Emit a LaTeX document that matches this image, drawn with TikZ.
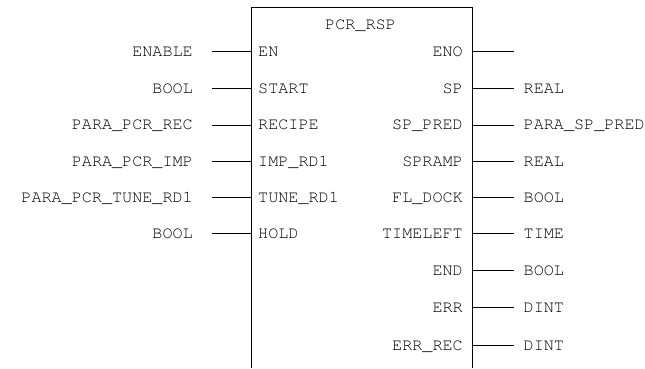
\documentclass[tikz,border=0pt]{standalone}
\usepackage{fontspec}
\newfontfamily\fbdfont{texgyrecursor-regular.otf}
\usetikzlibrary{calc}

\begin{document}
\begin{tikzpicture}[
  x=1pt, y=-1pt,
  lbl/.style={font=\fbdfont\fontsize{16.8}{18}\selectfont, inner sep=0pt, text=black},
  wire/.style={draw, line width=0.8pt}
  ]
  \useasboundingbox (0,0) rectangle (645,368);
  % block
  \coordinate (bl) at (251.7,368);
  \coordinate (tl) at (251.7,7);
  \coordinate (tr) at (472.3,7);
  \coordinate (br) at (472.3,368);
  \draw[wire] (bl) -- (tl) -- (tr) -- (br);
  \node[lbl, anchor=base] (fb) at (360.5,29.7) {PCR\_RSP};
  % inputs
  \coordinate (iEN) at (212,51.7); \draw[wire] (iEN) -- (iEN -| tl);
  \node[lbl, anchor=base east] (vEN) at (193,56.4) {ENABLE};
  \node[lbl, anchor=base west] (pEN) at (258,56.4) {EN};
  \coordinate (iST) at (212,88.3); \draw[wire] (iST) -- (iST -| tl);
  \node[lbl, anchor=base east] (vST) at (193,93.0) {BOOL};
  \node[lbl, anchor=base west] (pST) at (258,93.0) {START};
  \coordinate (iRC) at (212,125.0); \draw[wire] (iRC) -- (iRC -| tl);
  \node[lbl, anchor=base east] (vRC) at (193,129.7) {PARA\_PCR\_REC};
  \node[lbl, anchor=base west] (pRC) at (258,129.7) {RECIPE};
  \coordinate (iIM) at (212,161.7); \draw[wire] (iIM) -- (iIM -| tl);
  \node[lbl, anchor=base east] (vIM) at (193,166.4) {PARA\_PCR\_IMP};
  \node[lbl, anchor=base west] (pIM) at (258,166.4) {IMP\_RD1};
  \coordinate (iTU) at (212,197.3); \draw[wire] (iTU) -- (iTU -| tl);
  \node[lbl, anchor=base east] (vTU) at (193,202.0) {PARA\_PCR\_TUNE\_RD1};
  \node[lbl, anchor=base west] (pTU) at (258,202.0) {TUNE\_RD1};
  \coordinate (iHO) at (212,233.3); \draw[wire] (iHO) -- (iHO -| tl);
  \node[lbl, anchor=base east] (vHO) at (193,238.0) {BOOL};
  \node[lbl, anchor=base west] (pHO) at (258,238.0) {HOLD};
  % outputs
  \coordinate (oENO) at (514,51.7); \draw[wire] (oENO -| tr) -- (oENO);
  \node[lbl, anchor=base east] (pENO) at (463,56.4) {ENO};
  \coordinate (oSP) at (514,88.3); \draw[wire] (oSP -| tr) -- (oSP);
  \node[lbl, anchor=base east] (pSP) at (463,93.0) {SP};
  \node[lbl, anchor=base west] (vSP) at (523.5,93.0) {REAL};
  \coordinate (oPR) at (514,125.0); \draw[wire] (oPR -| tr) -- (oPR);
  \node[lbl, anchor=base east] (pPR) at (463,129.7) {SP\_PRED};
  \node[lbl, anchor=base west] (vPR) at (523.5,129.7) {PARA\_SP\_PRED};
  \coordinate (oRA) at (514,161.7); \draw[wire] (oRA -| tr) -- (oRA);
  \node[lbl, anchor=base east] (pRA) at (463,166.4) {SPRAMP};
  \node[lbl, anchor=base west] (vRA) at (523.5,166.4) {REAL};
  \coordinate (oFL) at (514,197.3); \draw[wire] (oFL -| tr) -- (oFL);
  \node[lbl, anchor=base east] (pFL) at (463,202.0) {FL\_DOCK};
  \node[lbl, anchor=base west] (vFL) at (523.5,202.0) {BOOL};
  \coordinate (oTL) at (514,233.3); \draw[wire] (oTL -| tr) -- (oTL);
  \node[lbl, anchor=base east] (pTL) at (463,238.0) {TIMELEFT};
  \node[lbl, anchor=base west] (vTL) at (523.5,238.0) {TIME};
  \coordinate (oEND) at (514,270.7); \draw[wire] (oEND -| tr) -- (oEND);
  \node[lbl, anchor=base east] (pEND) at (463,275.4) {END};
  \node[lbl, anchor=base west] (vEND) at (523.5,275.4) {BOOL};
  \coordinate (oER) at (514,307.7); \draw[wire] (oER -| tr) -- (oER);
  \node[lbl, anchor=base east] (pER) at (463,312.4) {ERR};
  \node[lbl, anchor=base west] (vER) at (523.5,312.4) {DINT};
  \coordinate (oEC) at (514,345.7); \draw[wire] (oEC -| tr) -- (oEC);
  \node[lbl, anchor=base east] (pEC) at (463,350.4) {ERR\_REC};
  \node[lbl, anchor=base west] (vEC) at (523.5,350.4) {DINT};
\end{tikzpicture}
\end{document}
